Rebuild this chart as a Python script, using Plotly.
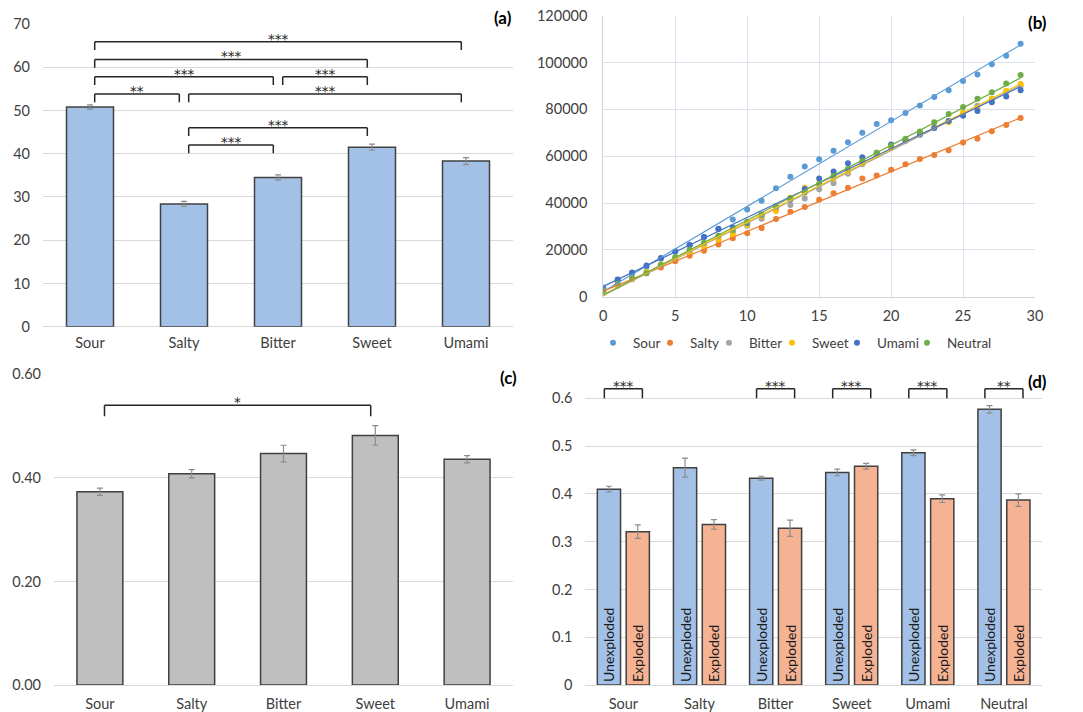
import numpy as np
import plotly.graph_objects as go

# ---------------- data ----------------
tastes = ["Sour", "Salty", "Bitter", "Sweet", "Umami"]
a_values = [50.8, 28.4, 34.5, 41.5, 38.3]
a_errors = [0.5, 0.6, 0.6, 0.7, 0.8]
# brackets (a): (from index, to index, level, label)
a_brackets = [
    (0, 4, 65.9, "***"),
    (0, 3, 61.8, "***"),
    (0, 2, 57.8, "***"),
    (2, 3, 57.8, "***"),
    (0, 1, 53.8, "**"),
    (1, 4, 53.8, "***"),
    (1, 3, 46.0, "***"),
    (1, 2, 42.0, "***"),
]

b_x = list(range(30))
b_series = {
    "Sour": [3900, 7200, 10000, 12800, 16200, 19200, 22200, 25500, 28800, 33000,
             37200, 41000, 46300, 51200, 55600, 58700, 62300, 66000, 70000, 73700,
             75300, 78500, 81700, 85300, 88200, 92100, 94900, 99300, 102900, 108000],
    "Salty": [2200, 4800, 7500, 10000, 12500, 15100, 17500, 19600, 22300, 25000,
              27100, 29300, 33200, 36300, 38300, 41400, 44200, 46500, 50500, 51800,
              54200, 56600, 58800, 60500, 62500, 65900, 67400, 70700, 73300, 76300],
    "Bitter": [2000, 5000, 7800, 10500, 13500, 16300, 19000, 22000, 24800, 27500,
               30300, 33300, 37000, 39200, 41900, 45900, 48500, 52500, 56600, 60500,
               63500, 66500, 69000, 72000, 75000, 78500, 81500, 84500, 87500, 90000],
    "Sweet": [1500, 4800, 7800, 10500, 13700, 16500, 19000, 21500, 24300, 26500,
              30600, 34500, 36600, 42300, 46500, 48300, 50500, 53500, 57000, 60500,
              63700, 66700, 69700, 72500, 74500, 78500, 80500, 84500, 88000, 90800],
    "Umami": [3000, 7300, 10300, 13300, 16500, 19300, 22000, 25500, 29000, 29500,
              31500, 35000, 38500, 41500, 46000, 50500, 53500, 57000, 59500, 61500,
              65000, 67000, 69500, 72000, 75000, 77300, 79300, 83000, 85500, 88200],
    "Neutral": [2500, 5500, 8000, 10000, 13500, 17000, 20000, 23000, 26000, 28500,
                32000, 35000, 38500, 42000, 44500, 48000, 51500, 54500, 58000, 61500,
                64500, 67500, 70500, 74500, 78000, 81000, 84500, 87300, 91000, 94700],
}
b_colors = {"Sour": "#5b9bd5", "Salty": "#ed7d31", "Bitter": "#a5a5a5",
            "Sweet": "#ffc000", "Umami": "#4472c4", "Neutral": "#70ad47"}

c_values = [0.373, 0.408, 0.447, 0.482, 0.436]
c_errors = [0.007, 0.008, 0.016, 0.019, 0.007]
c_brackets = [(0, 3, 0.54, "*")]

d_cats = ["Sour", "Salty", "Bitter", "Sweet", "Umami", "Neutral"]
d_unexploded = [0.410, 0.455, 0.433, 0.445, 0.486, 0.577]
d_unexploded_err = [0.006, 0.020, 0.004, 0.007, 0.006, 0.008]
d_exploded = [0.321, 0.336, 0.328, 0.458, 0.390, 0.387]
d_exploded_err = [0.014, 0.010, 0.017, 0.006, 0.008, 0.013]
d_brackets = [(0, "***"), (2, "***"), (3, "***"), (4, "***"), (5, "**")]

# ---------------- style / layout helpers ----------------
FONT = "Lato, 'Open Sans', sans-serif"
STARFONT = "'DejaVu Sans', sans-serif"
TXT = "#404040"
GRID = "#d9d9d9"
OUTLINE = "#404040"
ERRC = "#8c8c8c"
BR = "#262626"

W, H, OFF = 1075, 704, 8   # page body adds an 8px margin


def px_x(X):
    return (X - OFF) / W


def px_y(Y):
    return (H + OFF - Y) / H


fig = go.Figure()

# (a)
fig.add_trace(go.Bar(
    x=tastes, y=a_values, width=0.5, xaxis="x", yaxis="y",
    marker=dict(color="#a3c1e7", line=dict(color=OUTLINE, width=1.5)),
    error_y=dict(type="data", array=a_errors, color=ERRC, thickness=1.2, width=3),
    showlegend=False))

# (b)
legend_ids = ["legend", "legend2", "legend3", "legend4", "legend5", "legend6"]
legend_dot_px = [614, 671, 730, 793, 858, 928]
for (name, vals), lid in zip(b_series.items(), legend_ids):
    fig.add_trace(go.Scatter(
        x=b_x, y=vals, mode="markers", name=name, xaxis="x2", yaxis="y2",
        marker=dict(color=b_colors[name], size=6), legend=lid))
for name, vals in b_series.items():
    k, c0 = np.polyfit(b_x, vals, 1)
    xs = [b_x[0], b_x[-1]]
    fig.add_trace(go.Scatter(
        x=xs, y=[k * v + c0 for v in xs], mode="lines", xaxis="x2", yaxis="y2",
        line=dict(color=b_colors[name], width=1.2), showlegend=False,
        hoverinfo="skip"))

# (c)
fig.add_trace(go.Bar(
    x=tastes, y=c_values, width=0.5, xaxis="x3", yaxis="y3",
    marker=dict(color="#bfbfbf", line=dict(color=OUTLINE, width=1.5)),
    error_y=dict(type="data", array=c_errors, color=ERRC, thickness=1.2, width=3),
    showlegend=False))

# (d)
fig.add_trace(go.Bar(
    x=d_cats, y=d_unexploded, width=0.305, offset=-0.342, xaxis="x4", yaxis="y4",
    marker=dict(color="#a3c1e7", line=dict(color=OUTLINE, width=1.5)),
    error_y=dict(type="data", array=d_unexploded_err, color=ERRC, thickness=1.2, width=3),
    text=["Unexploded"] * len(d_cats), textposition="inside", insidetextanchor="start",
    textangle=-90, insidetextfont=dict(family=FONT, size=14, color="#1a1a1a"),
    constraintext="none", showlegend=False))
fig.add_trace(go.Bar(
    x=d_cats, y=d_exploded, width=0.305, offset=0.037, xaxis="x4", yaxis="y4",
    marker=dict(color="#f5b394", line=dict(color=OUTLINE, width=1.5)),
    error_y=dict(type="data", array=d_exploded_err, color=ERRC, thickness=1.2, width=3),
    text=["Exploded"] * len(d_cats), textposition="inside", insidetextanchor="start",
    textangle=-90, insidetextfont=dict(family=FONT, size=14, color="#1a1a1a"),
    constraintext="none", showlegend=False))

shapes = []
annotations = []


def bracket(xref, yref, x0, x1, top, bottom, label):
    ln = dict(color=BR, width=1.5)
    shapes.append(dict(type="line", xref=xref, yref=yref, x0=x0, x1=x0, y0=bottom, y1=top, line=ln))
    shapes.append(dict(type="line", xref=xref, yref=yref, x0=x0, x1=x1, y0=top, y1=top, line=ln))
    shapes.append(dict(type="line", xref=xref, yref=yref, x0=x1, x1=x1, y0=bottom, y1=top, line=ln))
    annotations.append(dict(xref=xref, yref=yref, x=(x0 + x1) / 2, y=top, text=label,
                            showarrow=False, yanchor="middle", yshift=3,
                            font=dict(family=STARFONT, size=13.5, color=BR)))


for i, j, lvl, lab in a_brackets:
    bracket("x", "y", i + 0.05, j - 0.05, lvl, lvl - 1.9, lab)
for i, j, lvl, lab in c_brackets:
    bracket("x3", "y3", i + 0.05, j - 0.05, lvl, lvl - 0.021, lab)
for i, lab in d_brackets:
    bracket("x4", "y4", i - 0.25, i + 0.25, 0.62, 0.60, lab)

for txt, X, Y in [("(a)", 503, 18), ("(b)", 1037, 22),
                  ("(c)", 508, 377), ("(d)", 1037, 381)]:
    annotations.append(dict(xref="paper", yref="paper", x=px_x(X), y=px_y(Y),
                            text="<b>%s</b>" % txt, showarrow=False,
                            xanchor="center", yanchor="middle",
                            font=dict(family=FONT, size=17, color="#000000")))

tickfont = dict(family=FONT, size=14.5, color=TXT)

legends = {}
for lid, dx in zip(legend_ids, legend_dot_px):
    legends[lid] = dict(orientation="h", x=px_x(dx - 21), y=px_y(343), xanchor="left",
                        yanchor="middle", font=dict(family=FONT, size=13.5, color=TXT),
                        itemwidth=30, bgcolor="rgba(0,0,0,0)", borderwidth=0)

fig.update_layout(
    width=W, height=H,
    template="none",
    margin=dict(l=0, r=0, t=0, b=0, autoexpand=False),
    paper_bgcolor="white", plot_bgcolor="white",
    font=dict(family=FONT, size=14, color=TXT),
    shapes=shapes, annotations=annotations,
    showlegend=True,
    xaxis=dict(domain=[px_x(43), px_x(513)], range=[-0.5, 4.5], showgrid=False, showline=False,
               ticks="", tickfont=tickfont, ticklabelstandoff=6, anchor="y", automargin=False),
    yaxis=dict(domain=[px_y(326.7), px_y(24)], range=[0, 70], dtick=10, showgrid=True,
               gridcolor=GRID, gridwidth=1, zeroline=True, zerolinecolor=GRID,
               showline=False, ticks="", tickfont=tickfont, ticklabelstandoff=12, anchor="x",
               automargin=False, ticklabeloverflow="allow"),
    xaxis2=dict(domain=[px_x(603.3), px_x(1035)], range=[0, 30], dtick=5, showgrid=True,
                gridcolor="#dde2ea", zeroline=False, showline=True, linecolor="#d0d6e0",
                mirror=False, ticks="", tickfont=tickfont, ticklabelstandoff=6, anchor="y2",
                automargin=False, ticklabeloverflow="allow"),
    yaxis2=dict(domain=[px_y(296.7), px_y(15.7)], range=[0, 120000], dtick=20000, showgrid=True,
                gridcolor="#dde2ea", zeroline=False, showline=True, linecolor="#c9d3e3",
                ticks="", tickfont=tickfont, ticklabelstandoff=12, anchor="x2",
                tickformat="d", automargin=False, ticklabeloverflow="allow"),
    xaxis3=dict(domain=[px_x(54), px_x(513)], range=[-0.5, 4.5], showgrid=False, showline=False,
                ticks="", tickfont=tickfont, ticklabelstandoff=8, anchor="y3", automargin=False,
                ticklabeloverflow="allow"),
    yaxis3=dict(domain=[px_y(685), px_y(374.3)], range=[0, 0.6], dtick=0.2, tickformat=".2f",
                showgrid=True, gridcolor=GRID, zeroline=True, zerolinecolor=GRID,
                showline=False, ticks="", tickfont=tickfont, ticklabelstandoff=12, anchor="x3",
                automargin=False),
    xaxis4=dict(domain=[px_x(585.3), px_x(1042)], range=[-0.5, 5.5], showgrid=False, showline=False,
                ticks="", tickfont=tickfont, ticklabelstandoff=8, anchor="y4", automargin=False,
                ticklabeloverflow="allow"),
    yaxis4=dict(domain=[px_y(685), px_y(369.7)], range=[0, 0.66],
                tickvals=[0, 0.1, 0.2, 0.3, 0.4, 0.5, 0.6],
                ticktext=["0", "0.1", "0.2", "0.3", "0.4", "0.5", "0.6"],
                showgrid=True, gridcolor=GRID, zeroline=True, zerolinecolor=GRID,
                showline=False, ticks="", tickfont=tickfont, ticklabelstandoff=12, anchor="x4",
                automargin=False),
    **legends,
)

fig.write_html("out.html")
